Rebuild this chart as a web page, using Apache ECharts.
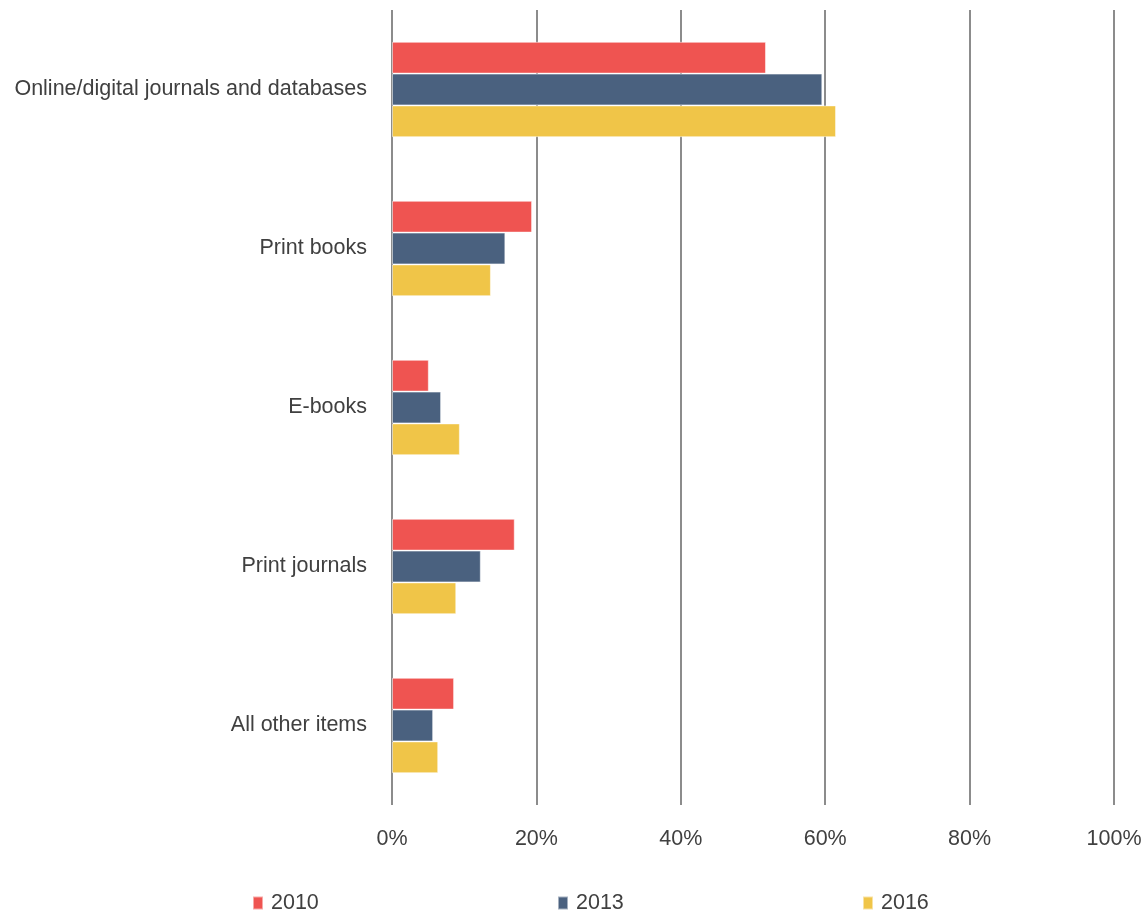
<!DOCTYPE html>
<html>
<head>
<meta charset="utf-8">
<script src="https://cdn.jsdelivr.net/npm/echarts@6/dist/echarts.min.js"></script>
<style>html,body{margin:0;padding:0;background:#fff}#c{width:1146px;height:913px}</style>
</head>
<body>
<div id="c"></div>
<script>
const categories = ["Online/digital journals and databases", "Print books", "E-books", "Print journals", "All other items"];
const seriesNames = ["2010", "2013", "2016"];
const values2010 = [51.8, 19.4, 5.1, 17.0, 8.6];
const values2013 = [59.6, 15.7, 6.8, 12.3, 5.7];
const values2016 = [61.5, 13.7, 9.4, 8.9, 6.4];
const xTicks = [0, 20, 40, 60, 80, 100];
const colors = ["#EF5451", "#4A617F", "#F0C548"];

const FONT = "'Liberation Sans', Arial, sans-serif";
const chart = echarts.init(document.getElementById('c'));
const data = [values2010, values2013, values2016];
const legendLeft = [252, 557, 862];
chart.setOption({
  animation: false,
  textStyle: {fontFamily: FONT},
  grid: {left: 392, right: 32, top: 10, height: 795, containLabel: false},
  legend: seriesNames.map((n, i) => ({
    data: [n], left: legendLeft[i], top: 892, padding: 0, itemWidth: 10, itemHeight: 13, itemGap: 0,
    icon: 'rect',
    textStyle: {fontSize: 21.5, color: '#404040', fontFamily: FONT, padding: [0, 0, 0, 3]}
  })),
  xAxis: {
    type: 'value', min: 0, max: 100, interval: 20,
    axisLine: {show: false}, axisTick: {show: false},
    splitLine: {lineStyle: {color: '#8c8c8c', width: 2}},
    axisLabel: {formatter: v => xTicks.includes(v) ? v + '%' : '', fontSize: 21.5, color: '#404040', margin: 23, fontFamily: FONT}
  },
  yAxis: {
    type: 'category', data: categories, inverse: true,
    axisLine: {show: false}, axisTick: {show: false},
    axisLabel: {fontSize: 21.5, color: '#404040', margin: 25, fontFamily: FONT, padding: [4, 0, 0, 0]}
  },
  series: seriesNames.map((n, i) => ({
    name: n, type: 'bar', data: data[i],
    barGap: '0%', barCategoryGap: '40%',
    itemStyle: {color: colors[i], borderColor: 'rgba(255,255,255,0.5)', borderWidth: 1}
  }))
});
</script>
</body>
</html>
